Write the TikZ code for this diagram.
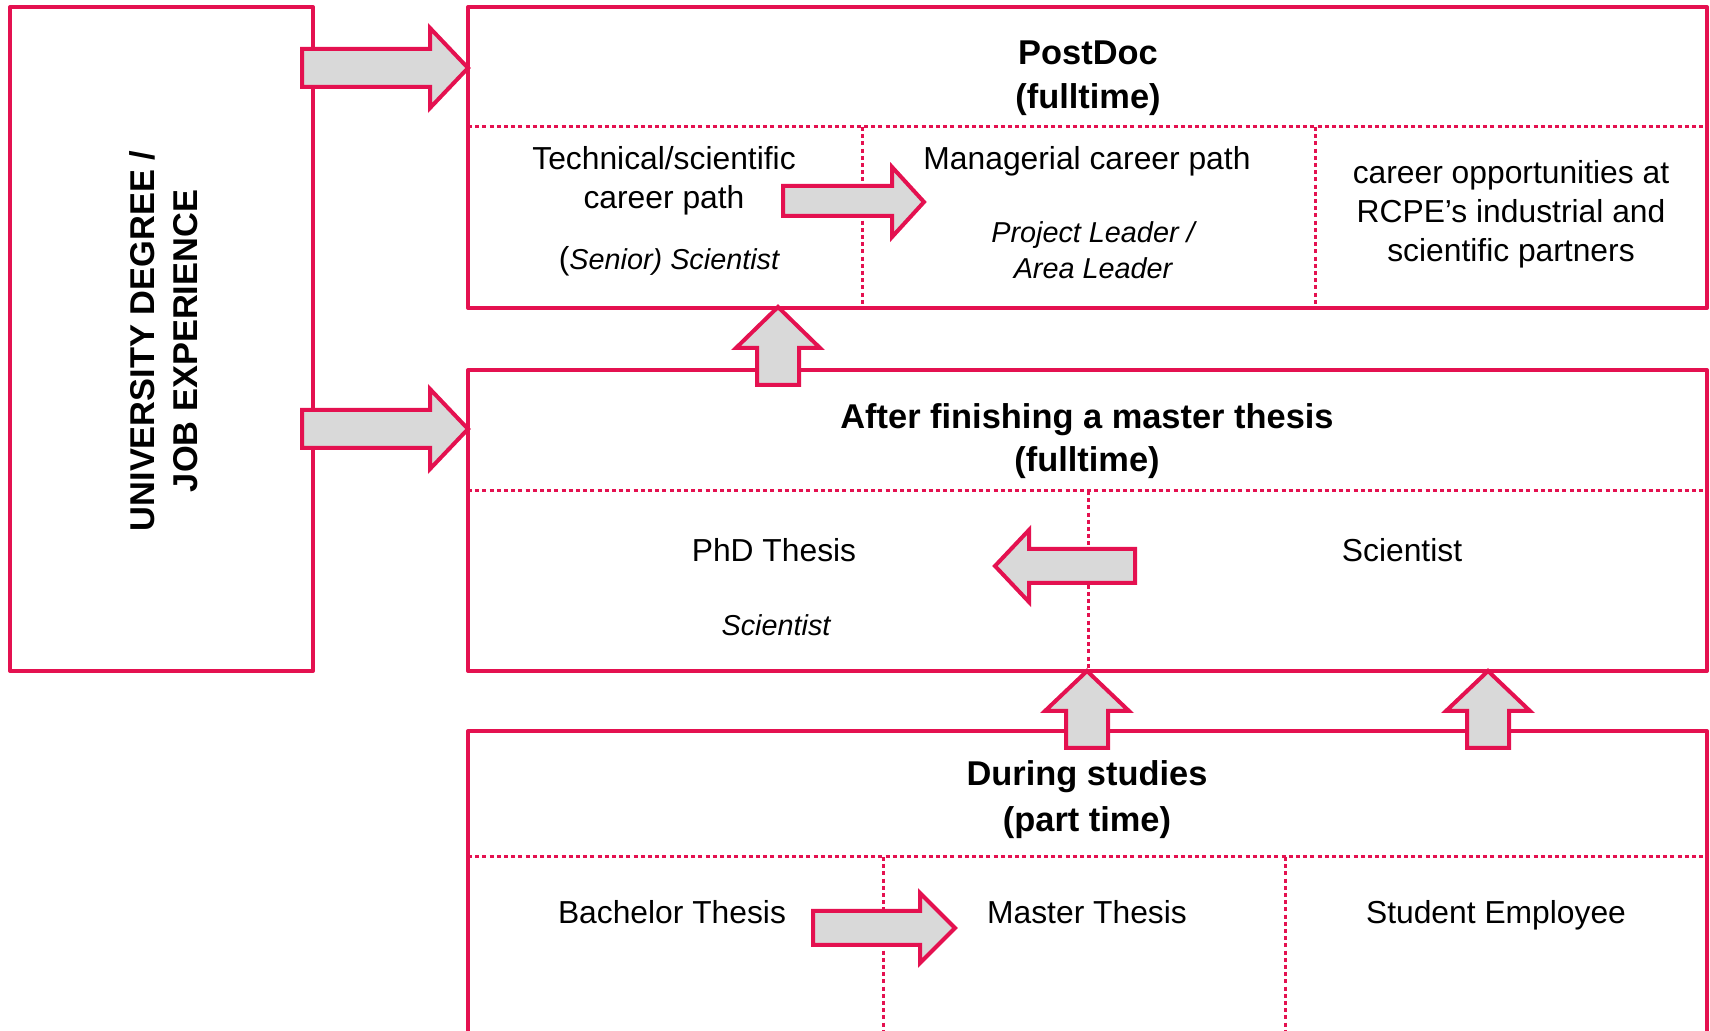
\documentclass[tikz,border=0pt]{standalone}
\usepackage{fontspec}
\setmainfont{Liberation Sans}
\definecolor{crim}{RGB}{228,17,80}
\definecolor{arrgray}{RGB}{217,217,217}
\tikzset{
  box/.style={draw=crim, line width=2pt, line join=round},
  dotline/.style={draw=crim, line width=1.5pt, dash pattern=on 2pt off 1.6pt},
  blockarrow/.style={draw=crim, fill=arrgray, line width=2pt, line join=miter},
  body/.style={font=\fontsize{15.9}{19.5}\selectfont, align=center, inner sep=0pt},
  ttl/.style={font=\bfseries\fontsize{17.2}{21.5}\selectfont, align=center, inner sep=0pt},
  emphtext/.style={font=\itshape\fontsize{14.4}{18}\selectfont, align=center, inner sep=0pt},
}
\begin{document}
\begin{tikzpicture}[x=0.5pt,y=-0.5pt]
\useasboundingbox (0,0) rectangle (1710,1031);
\clip (0,0) rectangle (1710,1031);
% boxes
\draw[box] (10,7) rectangle (313,671);
\draw[box] (468,7) rectangle (1707,308);
\draw[box] (468,370) rectangle (1707,671);
\draw[box] (468,1060) -- (468,731) -- (1707,731) -- (1707,1060);
% dotted separators
\draw[dotline] (468,127) -- (1707,127);
\draw[dotline] (862,127) -- (862,308);
\draw[dotline] (1315,127) -- (1315,308);
\draw[dotline] (468,491) -- (1707,491);
\draw[dotline] (1088,491) -- (1088,671);
\draw[dotline] (468,857) -- (1707,857);
\draw[dotline] (883,857) -- (883,1060);
\draw[dotline] (1285,857) -- (1285,1060);
% texts
\node[ttl, rotate=90] (uni) at (164,341) {UNIVERSITY DEGREE /\\JOB EXPERIENCE};
\node[ttl, font=\bfseries\fontsize{17.2}{22}\selectfont] (pdt) at (1088,78) {PostDoc\\(fulltime)};
\node[body] (tech) at (664,181) {Technical/scientific\\career path};
\node[emphtext] (senior) at (669,261) {{\upshape\fontsize{15.9}{18}\selectfont(}Senior) Scientist};
\node[body] (mgr) at (1087,161) {Managerial career path};
\node[emphtext] (pl) at (1093,250) {Project Leader /\\Area Leader};
\node[body] (opp) at (1511,214) {career opportunities at\\RCPE’s industrial and\\scientific partners};
\node[ttl] (mt) at (1087,441) {After finishing a master thesis\\(fulltime)};
\node[body] (phd) at (774,550) {PhD Thesis};
\node[emphtext] (phds) at (776,625) {Scientist};
\node[body] (sci) at (1402,550) {Scientist};
\node[ttl, font=\bfseries\fontsize{17.2}{23}\selectfont] (ds) at (1087,800) {During studies\\(part time)};
\node[body, anchor=base] (bt) at (672,924) {Bachelor Thesis};
\node[body, anchor=base] (mth) at (1087,924) {Master Thesis};
\node[body, anchor=base] (se) at (1496,924) {Student Employee};
% block arrows
\draw[blockarrow] (302,49) -- (430,49) -- (430,28) -- (468,68) -- (430,108) -- (430,87) -- (302,87) -- cycle;
\draw[blockarrow] (302,410) -- (430,410) -- (430,389) -- (468,429) -- (430,469) -- (430,448) -- (302,448) -- cycle;
\draw[blockarrow] (783,186) -- (892,186) -- (892,167) -- (924,202) -- (892,237) -- (892,216) -- (783,216) -- cycle;
\draw[blockarrow] (813,911) -- (920,911) -- (920,893) -- (955,928) -- (920,963) -- (920,945) -- (813,945) -- cycle;
\draw[blockarrow] (1135,549) -- (1029,549) -- (1029,530) -- (995,566) -- (1029,602) -- (1029,583) -- (1135,583) -- cycle;
\draw[blockarrow] (757,385) -- (757,348) -- (736,348) -- (778,307) -- (820,348) -- (799,348) -- (799,385) -- cycle;
\draw[blockarrow] (1066,748) -- (1066,711) -- (1045,711) -- (1087,671) -- (1129,711) -- (1108,711) -- (1108,748) -- cycle;
\draw[blockarrow] (1467,748) -- (1467,711) -- (1446,711) -- (1488,671) -- (1530,711) -- (1509,711) -- (1509,748) -- cycle;
\end{tikzpicture}
\end{document}
